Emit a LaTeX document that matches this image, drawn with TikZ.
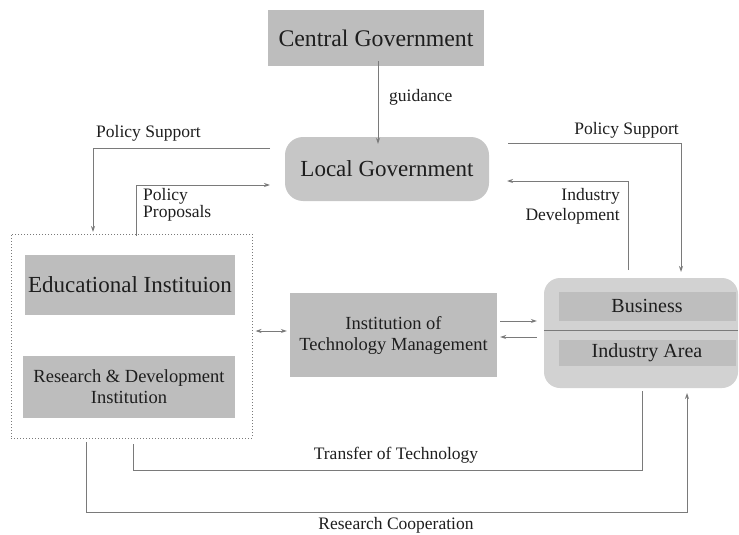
\documentclass[tikz,border=0pt]{standalone}
\usepackage{fontspec}
\setmainfont{Liberation Serif}
\usetikzlibrary{arrows.meta}
\definecolor{boxg}{HTML}{BDBDBD}
\definecolor{lgg}{HTML}{C6C6C6}
\definecolor{outg}{HTML}{D2D2D2}
\definecolor{ing}{HTML}{BEBEBE}
\definecolor{lineg}{HTML}{7A7A7A}
\definecolor{txt}{HTML}{1E1E1E}
\tikzset{
  box/.style={draw=none, fill=boxg, inner sep=0pt, align=center, text=txt},
  big/.style={font=\fontsize{23}{26}\selectfont},
  mid/.style={font=\fontsize{18.5}{21}\selectfont},
  lbl/.style={inner sep=0pt, text=txt, font=\fontsize{17.5}{19}\selectfont},
  conn/.style={draw=lineg, line width=0.9pt},
  arr/.style={conn, -{Stealth[length=6pt,width=4pt]}},
  darr/.style={conn, {Stealth[length=6pt,width=4pt]}-{Stealth[length=6pt,width=4pt]}},
}
\begin{document}
\begin{tikzpicture}[x=1pt,y=-1pt]
\useasboundingbox (0,0) rectangle (739,535);
% nodes
\node[box,font=\fontsize{23.8}{26}\selectfont,minimum width=216pt,minimum height=56pt] (cg) at (376,38) {Central Government};
\node[box,big,fill=lgg,rounded corners=18pt,minimum width=204pt,minimum height=64pt] (lg) at (387,169) {Local Government};
\node[draw=lineg,dotted,line width=1pt,minimum width=241pt,minimum height=204pt,inner sep=0pt] (grp) at (131.5,336) {};
\node[box,big,minimum width=210pt,minimum height=60pt] (edu) at (130,285) {Educational Instituion};
\node[box,mid,minimum width=212pt,minimum height=62pt] (rd) at (129,387) {Research \& Development\\Institution};
\node[box,mid,minimum width=207pt,minimum height=84pt] (itm) at (393.5,335) {Institution of\\Technology Management};
\node[box,fill=outg,rounded corners=16pt,minimum width=194pt,minimum height=110pt] (ba) at (641,333) {};
\node[box,fill=ing,font=\fontsize{20}{22}\selectfont,minimum width=177pt,minimum height=29pt] (bus) at (647,306) {Business};
\node[box,fill=ing,font=\fontsize{20}{22}\selectfont,minimum width=177pt,minimum height=26pt] (ind) at (647,353) {Industry Area};
\draw[draw=lineg,line width=0.8pt] (ba.west |- 0,330) -- (ba.east |- 0,330);
% labels
\node[lbl,anchor=west] (lguid) at (389,97) {guidance};
\node[lbl,anchor=west] (lps1) at (96,133) {Policy Support};
\node[lbl,anchor=north west,align=left,font=\fontsize{17.5}{17}\selectfont] (lpp) at (143,188) {Policy\\Proposals};
\node[lbl,anchor=east] (lps2) at (679,130) {Policy Support};
\node[lbl,anchor=east,align=right,font=\fontsize{17.5}{20}\selectfont] (lid) at (620,206) {Industry\\Development};
\node[lbl] (ltt) at (396,455) {Transfer of Technology};
\node[lbl] (lrc) at (396,525) {Research Cooperation};
% coordinates
\coordinate (ps1s) at (270,148);
\coordinate (ps1e) at (93,232);
\coordinate (pps) at (136,236);
\coordinate (ppe) at (270,185);
\coordinate (ps2s) at (508,143);
\coordinate (ps2e) at (681,272);
\coordinate (ids) at (628,270);
\coordinate (ide) at (507,181);
\coordinate (tts) at (133,444);
\coordinate (tte) at (642,391);
\coordinate (rcs) at (86,442);
\coordinate (rce) at (687,393);
% connectors
\draw[arr] ([yshift=5pt]cg.south -| 378,0) -- ([yshift=-7pt]lg.north -| 378,0);
\draw[arr] (ps1s) -| (ps1e);
\draw[arr] (pps) |- (ppe);
\draw[arr] (ps2s) -| (ps2e);
\draw[arr] (ids) |- (ide);
\draw[darr] ([xshift=3pt]grp.east |- 0,331) -- ([xshift=-3pt]itm.west |- 0,331);
\draw[arr] ([xshift=3pt]itm.east |- 0,321) -- ([xshift=-7pt]ba.west |- 0,321);
\draw[arr] ([xshift=-7pt]ba.west |- 0,337) -- ([xshift=3pt]itm.east |- 0,337);
\draw[conn] (tts) -- (133,470) -| (tte);
\draw[arr] (rcs) -- (86,512) -| (rce);
\end{tikzpicture}
\end{document}
